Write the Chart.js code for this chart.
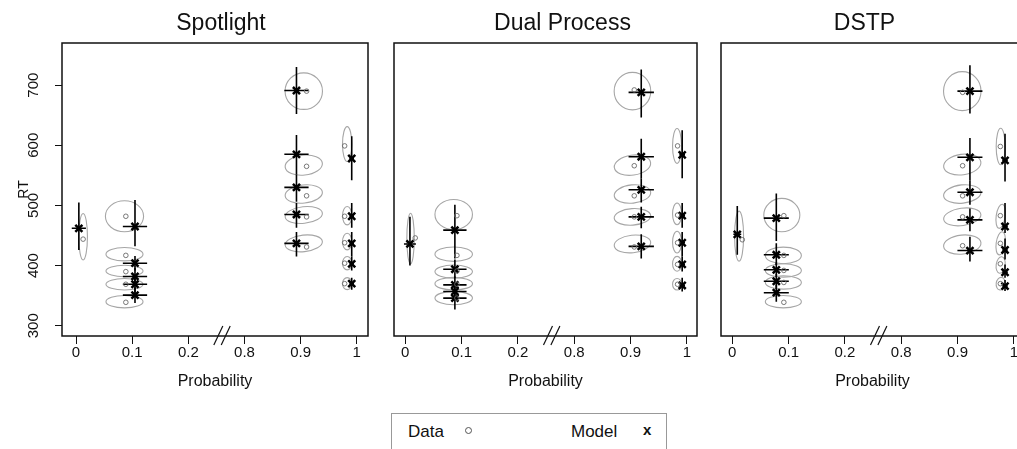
<!DOCTYPE html>
<html>
<head>
<meta charset="utf-8">
<script src="https://cdn.jsdelivr.net/npm/chart.js@4"></script>
<style>
  html, body { margin: 0; padding: 0; background: #fff; }
  #page { position: relative; width: 1017px; height: 449px; overflow: hidden; font-family: "Liberation Sans", Arial, sans-serif; color: #111; }
  .panel { position: absolute; top: 0; }
  .legend { position: absolute; left: 391px; top: 413px; width: 276px; height: 50px; border: 1px solid #999; box-sizing: border-box; }
  .legend span { position: absolute; font-size: 17px; line-height: normal; white-space: nowrap; }
  .legend .dot { width: 5px; height: 5px; border: 1px solid #555; border-radius: 50%; }
</style>
</head>
<body>
<div id="page">
  <canvas id="panel0" class="panel" width="372" height="400" style="left:0px"></canvas>
  <canvas id="panel1" class="panel" width="320" height="400" style="left:380px"></canvas>
  <canvas id="panel2" class="panel" width="320" height="400" style="left:707px"></canvas>
  <div class="legend">
    <span style="left:16px; top:8px">Data</span>
    <span class="dot" style="left:73px; top:13px"></span>
    <span style="left:179px; top:8px">Model</span>
    <span style="left:251px; top:7px; font-size:15px; font-weight:bold">x</span>
  </div>
</div>
<script>
const panelTitles = ['Spotlight', 'Dual Process', 'DSTP'];
const xTicks = [0, 0.1, 0.2, 0.8, 0.9, 1];
const yTicks = [300, 400, 500, 600, 700];

// observed means: [probability, RT]
const spotlightData = [
    [0.0126, 444], [0.0887, 482], [0.0887, 417], [0.0887, 390], [0.0887, 369], [0.0887, 339],
    [0.9106, 690], [0.9106, 565], [0.9106, 516], [0.9106, 481], [0.9106, 431],
    [0.9784, 599], [0.9784, 482], [0.9784, 438], [0.9784, 404], [0.9784, 370]
];
const dualData = [
    [0.0177, 446], [0.0917, 483], [0.0917, 417], [0.0917, 391], [0.0917, 369], [0.0917, 346],
    [0.9066, 692], [0.9066, 566], [0.9066, 516], [0.9066, 481], [0.9066, 431],
    [0.9835, 599], [0.9835, 484], [0.9835, 438], [0.9835, 402], [0.9835, 369]
];
const dstpData = [
    [0.0178, 443], [0.0916, 483], [0.0916, 417], [0.0916, 392], [0.0916, 372], [0.0916, 339],
    [0.909, 688], [0.909, 566], [0.909, 516], [0.909, 481], [0.909, 433],
    [0.976, 598], [0.976, 483], [0.976, 437], [0.976, 403], [0.976, 370]
];

// model predictions: [probability, RT, probability error, RT low, RT high]
const spotlightModel = [
    [0.005, 462, 0.0126, 426, 505],
    [0.105, 465, 0.0216, 432, 509], [0.105, 404, 0.0216, 392, 416], [0.105, 382, 0.0216, 368, 396],
    [0.105, 369, 0.0216, 355, 383], [0.105, 351, 0.0216, 338, 364],
    [0.8926, 691, 0.0216, 652, 730], [0.8926, 585, 0.0216, 551, 617], [0.8926, 530, 0.0216, 506, 551],
    [0.8926, 485, 0.0216, 463, 504], [0.8926, 437, 0.0216, 415, 456],
    [0.991, 578, 0.004, 542, 615], [0.991, 482, 0.004, 463, 504], [0.991, 437, 0.004, 415, 456],
    [0.991, 403, 0.004, 392, 415], [0.991, 370, 0.004, 360, 380]
];
const dualModel = [
    [0.0083, 436, 0.0106, 400, 481],
    [0.0881, 459, 0.0207, 412, 501], [0.0881, 394, 0.0207, 380, 410], [0.0881, 368, 0.0207, 355, 382],
    [0.0881, 357, 0.0207, 344, 370], [0.0881, 346, 0.0207, 327, 358],
    [0.919, 688, 0.0225, 646, 726], [0.919, 581, 0.0225, 545, 611], [0.919, 526, 0.0225, 505, 545],
    [0.919, 481, 0.0225, 462, 498], [0.919, 432, 0.0225, 412, 452],
    [0.9917, 584, 0.005, 545, 625], [0.9917, 483, 0.005, 463, 504], [0.9917, 438, 0.005, 415, 456],
    [0.9917, 402, 0.005, 390, 415], [0.9917, 367, 0.005, 357, 380]
];
const dstpModel = [
    [0.0089, 452, 0.007, 418, 499],
    [0.0782, 479, 0.0222, 441, 520], [0.0782, 418, 0.0222, 401, 437], [0.0782, 393, 0.0222, 381, 405],
    [0.0782, 374, 0.0222, 361, 386], [0.0782, 355, 0.0222, 340, 368],
    [0.922, 690, 0.0222, 653, 733], [0.922, 580, 0.0222, 542, 612], [0.922, 522, 0.0222, 501, 542],
    [0.922, 476, 0.0222, 457, 495], [0.922, 425, 0.0222, 407, 448],
    [0.9843, 575, 0.005, 540, 619], [0.9843, 465, 0.005, 454, 504], [0.9843, 426, 0.005, 410, 445],
    [0.9843, 389, 0.005, 380, 402], [0.9843, 366, 0.005, 358, 376]
];

// data ellipses: [probability, RT, probability radius, RT radius, tilt in degrees]
const spotlightEllipses = [
    [0.0126, 448, 0.0077, 38.7, 0],
    [0.0863, 482, 0.034, 25.7, 0], [0.0863, 419, 0.033, 11.1, 0], [0.0863, 391, 0.033, 9.5, 0],
    [0.0863, 369, 0.033, 9.6, 0], [0.0863, 340, 0.033, 10.3, 0],
    [0.9056, 690, 0.0333, 30.4, 0], [0.9056, 567, 0.0333, 16.6, -6], [0.9056, 519, 0.0333, 15, -6],
    [0.9056, 484, 0.0333, 13.8, -6], [0.9056, 437, 0.0333, 13.8, -6],
    [0.9829, 602, 0.0083, 29, 0], [0.9829, 483, 0.0083, 15.3, 0], [0.9829, 440, 0.0083, 13.8, 0],
    [0.9829, 404, 0.0083, 11.1, 0], [0.9829, 370, 0.0083, 10, 0]
];
const dualEllipses = [
    [0.0094, 445, 0.0066, 42, 0],
    [0.086, 485, 0.0333, 24.9, 0], [0.086, 419, 0.0333, 12, 0], [0.086, 390, 0.0333, 11.1, 0],
    [0.086, 370, 0.0333, 10.5, 0], [0.086, 346, 0.0333, 11.1, 0],
    [0.9034, 690, 0.0325, 31.2, 0], [0.9034, 567, 0.0325, 16.6, -8], [0.9034, 519, 0.0325, 15.2, -6],
    [0.9034, 481, 0.0325, 13.8, -4], [0.9034, 436, 0.0325, 14.6, -6],
    [0.9826, 599, 0.008, 29, 0], [0.9826, 486, 0.008, 18, 0], [0.9826, 439, 0.008, 18, 0],
    [0.9826, 403, 0.008, 12.4, 0], [0.9826, 369, 0.008, 9.6, 0]
];
const dstpEllipses = [
    [0.0121, 449, 0.008, 41.5, 0],
    [0.088, 484, 0.032, 27.7, 0], [0.0907, 417, 0.032, 13.8, 0], [0.0907, 392, 0.032, 11.1, 0],
    [0.0907, 372, 0.032, 11.1, 0], [0.0907, 340, 0.032, 10.3, 0],
    [0.9084, 690, 0.0333, 32.4, 0], [0.9084, 568, 0.0333, 17.1, -8], [0.9084, 519, 0.0333, 15.2, -6],
    [0.9084, 481, 0.0333, 14.4, -8], [0.9084, 435, 0.0333, 15.8, -6],
    [0.9766, 598, 0.008, 30.4, 0], [0.9766, 482, 0.008, 20.2, 8], [0.9766, 437, 0.008, 19.4, 8],
    [0.9766, 401, 0.008, 13.8, 8], [0.9766, 370, 0.008, 10.5, 8]
];

const breakAt = 0.26; // where the // mark sits on the compressed axis
const titleShift = [6, 17, -8]; // titles are not quite centred over their boxes

Chart.defaults.font.family = '"Liberation Sans", Arial, sans-serif';
Chart.defaults.color = '#111';

// the axis skips 0.2 .. 0.8, so high probabilities are shifted left
const toAxis = p => (p > 0.5 ? p - 0.5 : p);

function ellipsePlugin(list) {
    return {
        id: 'ellipses',
        beforeDatasetsDraw(chart) {
            const {ctx, scales: {x, y}} = chart;
            ctx.save();
            ctx.strokeStyle = '#a6a6a6';
            ctx.lineWidth = 1.1;
            list.forEach(([p, rt, rp, rrt, tilt]) => {
                const cx = x.getPixelForValue(toAxis(p));
                const cy = y.getPixelForValue(rt);
                const rx = Math.abs(x.getPixelForValue(toAxis(p) + rp) - cx);
                const ry = Math.abs(y.getPixelForValue(rt + rrt) - cy);
                ctx.beginPath();
                ctx.ellipse(cx, cy, rx, ry, tilt * Math.PI / 180, 0, 2 * Math.PI);
                ctx.stroke();
            });
            ctx.restore();
        }
    };
}

function errorBarPlugin(list) {
    return {
        id: 'errorBars',
        beforeDatasetsDraw(chart) {
            const {ctx, scales: {x, y}} = chart;
            ctx.save();
            ctx.strokeStyle = '#000';
            ctx.lineWidth = 1.6;
            list.forEach(([p, rt, pe, lo, hi]) => {
                const a = toAxis(p);
                const px = x.getPixelForValue(a);
                const py = y.getPixelForValue(rt);
                ctx.beginPath();
                ctx.moveTo(px, y.getPixelForValue(lo));
                ctx.lineTo(px, y.getPixelForValue(hi));
                ctx.moveTo(x.getPixelForValue(a - pe), py);
                ctx.lineTo(x.getPixelForValue(a + pe), py);
                ctx.stroke();
            });
            ctx.restore();
        }
    };
}

function titlePlugin(text, shift) {
    return {
        id: 'panelTitle',
        afterDraw(chart) {
            const {ctx, chartArea: area} = chart;
            ctx.save();
            ctx.font = '23px "Liberation Sans", Arial, sans-serif';
            ctx.fillStyle = '#111';
            ctx.textAlign = 'center';
            ctx.textBaseline = 'alphabetic';
            ctx.fillText(text, (area.left + area.right) / 2 + shift, 30);
            ctx.restore();
        }
    };
}

const framePlugin = {
    id: 'frame',
    afterDraw(chart) {
        const {ctx, chartArea: area, scales: {x}} = chart;
        ctx.save();
        ctx.strokeStyle = '#111';
        ctx.lineWidth = 1.5;
        ctx.strokeRect(area.left, area.top, area.right - area.left, area.bottom - area.top);
        // axis break mark
        const cx = x.getPixelForValue(breakAt);
        ctx.lineWidth = 1.2;
        [-3.7, 3.7].forEach(off => {
            ctx.beginPath();
            ctx.moveTo(cx + off - 4.5, area.bottom + 9);
            ctx.lineTo(cx + off + 4.5, area.bottom - 10);
            ctx.stroke();
        });
        ctx.restore();
    }
};

function makePanel(idx, dataPts, modelPts, ellipses) {
    const first = idx === 0;
    return new Chart(document.getElementById('panel' + idx), {
        type: 'scatter',
        data: {
            datasets: [
                {
                    label: 'Data',
                    data: dataPts.map(([p, rt]) => ({x: toAxis(p), y: rt})),
                    pointStyle: 'circle',
                    pointRadius: 2.3,
                    borderWidth: 0.9,
                    borderColor: '#6a6a6a',
                    backgroundColor: 'rgba(0,0,0,0)'
                },
                {
                    label: 'Model',
                    data: modelPts.map(([p, rt]) => ({x: toAxis(p), y: rt})),
                    pointStyle: 'crossRot',
                    pointRadius: 5,
                    borderWidth: 2.5,
                    borderColor: '#000',
                    backgroundColor: '#000'
                }
            ]
        },
        options: {
            responsive: false,
            animation: false,
            events: [],
            layout: {autoPadding: false, padding: {left: first ? 0 : 14, right: first ? 4 : 3, top: 43, bottom: 0}},
            plugins: {
                legend: {display: false},
                tooltip: {enabled: false},
                title: {display: false}
            },
            scales: {
                x: {
                    type: 'linear',
                    bounds: 'data',
                    min: first ? -0.025 : -0.02,
                    max: first ? 0.52 : 0.518,
                    afterBuildTicks: axis => { axis.ticks = xTicks.map(v => ({value: toAxis(v)})); },
                    afterFit: axis => { axis.height = 64; },
                    grid: {drawOnChartArea: false, tickLength: 8, color: '#111'},
                    border: {display: false},
                    ticks: {
                        font: {size: 15},
                        padding: 0,
                        maxRotation: 0,
                        callback: (v, i) => String(xTicks[i])
                    },
                    title: {display: true, text: 'Probability', font: {size: 16}, padding: {top: 0, bottom: 9}}
                },
                y: {
                    type: 'linear',
                    display: first,
                    bounds: 'data',
                    min: 283,
                    max: 770,
                    afterBuildTicks: axis => { axis.ticks = yTicks.map(v => ({value: v})); },
                    afterFit: axis => { axis.width = first ? 62 : 0; },
                    grid: {drawOnChartArea: false, tickLength: 7, color: '#111'},
                    border: {display: false},
                    ticks: {font: {size: 15}, minRotation: 90, maxRotation: 90, crossAlign: 'center', padding: 9},
                    title: {display: true, text: 'RT', font: {size: 14}, padding: {top: 16, bottom: 0}}
                }
            }
        },
        plugins: [ellipsePlugin(ellipses), errorBarPlugin(modelPts), framePlugin, titlePlugin(panelTitles[idx], titleShift[idx])]
    });
}

makePanel(0, spotlightData, spotlightModel, spotlightEllipses);
makePanel(1, dualData, dualModel, dualEllipses);
makePanel(2, dstpData, dstpModel, dstpEllipses);
</script>
</body>
</html>
